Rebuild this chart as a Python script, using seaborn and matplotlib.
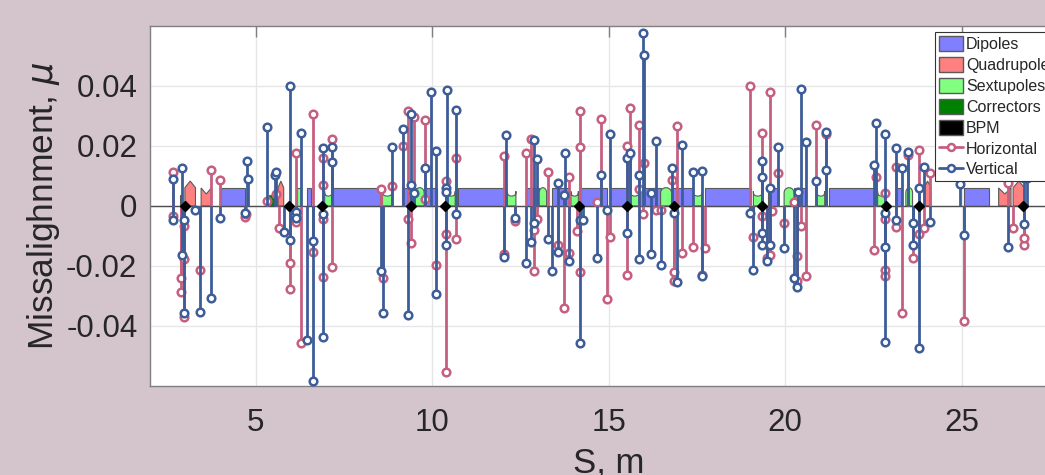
import numpy as np
import pandas as pd
import seaborn as sns
import matplotlib.pyplot as plt
from matplotlib.patches import Patch
from matplotlib.lines import Line2D

# Lattice elements, positions in m
dip_start = [4.00, 6.45, 7.18, 9.15, 9.76, 10.74, 12.66, 13.40, 14.22, 15.03, 15.86, 16.80, 17.73, 19.50, 20.25, 21.23, 23.14, 25.08]
dip_end = [4.68, 6.57, 8.53, 9.53, 10.14, 12.08, 13.02, 13.87, 14.94, 15.53, 16.47, 17.39, 19.02, 19.80, 20.57, 22.53, 23.31, 25.79]

quad_start = [2.99, 3.45, 5.63, 23.94, 26.05, 26.46]
quad_end = [3.29, 3.74, 5.79, 24.13, 26.40, 26.78]
quad_kind = ["F", "D", "F", "F", "D", "F"]

sext_start = [6.17, 6.95, 8.59, 9.52, 10.43, 12.13, 13.03, 13.93, 15.62, 16.47, 17.40, 19.10, 19.97, 20.90, 22.62, 23.42]
sext_end = [6.27, 7.16, 8.86, 9.77, 10.65, 12.37, 13.24, 14.14, 15.86, 16.78, 17.65, 19.35, 20.25, 21.12, 22.84, 23.61]
sext_kind = ["flat", "notch", "notch", "bump", "notch", "notch", "bump", "notch",
             "notch", "bump", "notch", "notch", "bump", "notch", "notch", "bump"]

corr_start = [2.86, 5.37]
corr_end = [2.90, 5.53]

bpm_s = [2.98, 5.95, 6.88, 9.40, 10.37, 14.15, 15.53, 16.85, 19.35, 22.86, 23.80, 26.75]

# Horizontal misalignments
h_s = [2.64, 2.64, 2.87, 2.87, 2.96, 2.96, 2.96, 3.43, 3.73, 3.98, 4.69, 4.73, 5.32, 5.56, 5.65,
       5.96, 5.96, 6.13, 6.13, 6.28, 6.61, 6.61, 6.89, 6.89, 6.89, 6.89, 7.17, 7.17,
       8.55, 8.60, 8.86, 9.16, 9.32, 9.32, 9.41, 9.49, 9.78, 9.78, 10.10, 10.39, 10.39, 10.39,
       10.67, 10.67, 12.04, 12.04, 12.35, 12.66, 12.80, 12.89, 12.89, 12.98, 13.29, 13.55, 13.73,
       13.88, 13.88, 14.09, 14.18, 14.18, 14.18,
       14.68, 14.79, 14.94, 15.03, 15.53, 15.53, 15.60, 15.86, 15.86, 16.01, 15.97, 16.35, 16.47,
       16.78, 16.85, 16.85, 16.94, 17.09, 17.39, 17.64, 17.73, 19.01, 19.09, 19.35, 19.35, 19.49,
       19.56, 19.56, 19.63, 19.80, 19.97, 20.25, 20.33, 20.33, 20.44, 20.58, 20.88,
       21.16, 22.51, 22.58, 22.84, 22.84, 22.84, 22.84, 23.14, 23.14, 23.30, 23.47, 23.61, 23.78,
       23.78, 23.94, 24.10, 25.08, 26.31, 26.46, 26.78, 26.78]
h_val = [0.0113, -0.0033, -0.0241, -0.0286, -0.0369, -0.0067, -0.0176, -0.0213, 0.0119, 0.0087, -0.0036, -0.0028, 0.0016, 0.0039, -0.0072,
         -0.0190, -0.0277, 0.0176, -0.0053, -0.0456, 0.0306, -0.0152, 0.0161, 0.0071, -0.0237, -0.0044, 0.0222, -0.0202,
         0.0056, -0.0241, 0.0067, 0.0200, 0.0317, -0.0042, -0.0122, 0.0298, 0.0287, 0.0022, -0.0197, -0.0552, 0.0083, -0.0094,
         0.0161, -0.0109, 0.0167, -0.0159, -0.0050, 0.0176, 0.0222, -0.0217, -0.0080, -0.0044, 0.0114, -0.0131, -0.0339,
         0.0097, -0.0156, -0.0083, 0.0316, 0.0198, -0.0219,
         0.0014, 0.0289, -0.0311, -0.0103, -0.0231, 0.0200, 0.0326, 0.0269, 0.0056, 0.0144, -0.0028, -0.0013, -0.0013,
         0.0086, -0.0220, -0.0250, 0.0267, -0.0156, -0.0138, -0.0231, -0.0141, 0.0400, -0.0104, 0.0244, -0.0033, -0.0172,
         0.0380, -0.0164, -0.0018, 0.0111, -0.0056, 0.0014, -0.0167, -0.0250, -0.0067, -0.0233, 0.0270,
         0.0241, -0.0147, 0.0098, 0.0044, -0.0044, -0.0214, -0.0233, 0.0130, -0.0069, -0.0358, 0.0169, -0.0174, 0.0187,
         -0.0094, -0.0072, 0.0111, -0.0383, 0.0078, -0.0072, -0.0130, -0.0106]

# Vertical misalignments
v_s = [2.64, 2.64, 2.92, 2.92, 2.96, 2.96, 3.29, 3.43, 3.73, 3.98, 4.69, 4.75, 4.78, 5.32, 5.53, 5.58,
       5.79, 5.96, 5.96, 6.13, 6.13, 6.28, 6.44, 6.61, 6.61, 6.89, 6.89, 6.89, 7.17, 7.17,
       8.55, 8.61, 8.86, 9.16, 9.32, 9.41, 9.41, 9.49, 9.78, 9.96, 10.10, 10.10, 10.39, 10.39, 10.39,
       10.42, 10.67, 10.67, 12.04, 12.10, 12.35, 12.66, 12.80, 12.89, 12.89, 12.98, 13.29, 13.39,
       13.55, 13.55, 13.73, 13.77, 13.88, 14.18, 14.18, 14.26, 14.66,
       14.79, 14.94, 15.03, 15.53, 15.53, 15.60, 15.86, 15.86, 15.96, 16.01, 16.21, 16.21, 16.35,
       16.47, 16.78, 16.85, 16.94, 17.09, 17.39, 17.64, 17.64, 19.01, 19.09, 19.35, 19.35, 19.35,
       19.35, 19.49, 19.56, 19.56, 19.80, 19.97, 20.25, 20.33, 20.35, 20.44, 20.58, 20.88,
       21.16, 21.16, 22.51, 22.58, 22.84, 22.84, 22.84, 22.84, 23.14, 23.14, 23.30, 23.47, 23.61,
       23.61, 23.78, 23.78, 23.94, 24.10, 24.95, 25.08, 26.31, 26.78, 26.78, 26.84]
v_val = [0.0089, -0.0048, 0.0126, -0.0163, -0.0356, -0.0047, -0.0013, -0.0353, -0.0308, -0.0041, -0.0022, 0.0150, 0.0089, 0.0263, 0.0103, 0.0114,
         -0.0087, 0.0399, -0.0113, -0.0020, -0.0039, 0.0244, -0.0448, -0.0584, -0.0117, 0.0194, -0.0436, -0.0028, 0.0196, 0.0148,
         -0.0217, -0.0356, 0.0198, 0.0256, -0.0363, 0.0306, 0.0069, 0.0044, 0.0128, 0.0380, 0.0182, -0.0294, 0.0059, -0.0131, 0.0047,
         0.0386, 0.0319, -0.0026, -0.0169, 0.0236, -0.0039, -0.0191, -0.0120, 0.0220, -0.0056, 0.0158, -0.0109, -0.0217,
         0.0078, -0.0152, 0.0036, 0.0178, -0.0183, -0.0456, -0.0047, -0.0047, -0.0172,
         0.0102, -0.0014, 0.0241, 0.0159, -0.0091, 0.0178, -0.0176, 0.0102, 0.0578, 0.0503, 0.0044, -0.0161, 0.0218,
         -0.0197, 0.0127, -0.0022, -0.0253, 0.0202, 0.0113, 0.0116, -0.0233, -0.0022, -0.0214, 0.0150, 0.0098, -0.0091,
         -0.0129, -0.0183, 0.0059, -0.0131, 0.0198, -0.0139, -0.0241, -0.0270, 0.0048, 0.0389, 0.0213, 0.0083,
         0.0248, 0.0120, 0.0136, 0.0277, 0.0241, -0.0022, -0.0137, -0.0453, 0.0192, -0.0048, 0.0128, 0.0180, -0.0058,
         -0.0131, 0.0059, -0.0474, 0.0131, -0.0053, 0.0072, -0.0097, -0.0137, -0.0061, 0.0094, 0.0094]

bg = "#d4c4cc"
pink = "#c55f80"
blue = "#3d5d98"
edge = "#5a5a5a"

sns.set_style("whitegrid", {"grid.color": "#e6e6e6", "axes.edgecolor": "#7f7f7f"})
plt.rcParams["font.family"] = ["Liberation Sans", "DejaVu Sans"]
plt.rcParams["mathtext.fontset"] = "dejavusans"

fig = plt.figure(figsize=(10.45, 4.75), dpi=100, facecolor=bg)
ax = fig.add_axes([0.1435, 0.1874, 0.878, 0.7579])

# dipoles
for a, b in zip(dip_start, dip_end):
    ax.fill([a, a, b, b], [0, 0.006, 0.006, 0], facecolor="#8080ff", edgecolor=edge, lw=0.8, zorder=2)

# quadrupoles
for a, b, k in zip(quad_start, quad_end, quad_kind):
    m = (a + b) / 2
    if k == "F":
        ys = [0, 0.0061, 0.0083, 0.0061, 0]
    else:
        ys = [0, 0.0060, 0.0040, 0.0060, 0]
    ax.fill([a, a, m, b, b], ys, facecolor="#ff8080", edgecolor=edge, lw=0.8, zorder=2)

# sextupoles
t = np.linspace(0, np.pi, 24)
for a, b, k in zip(sext_start, sext_end, sext_kind):
    m, r = (a + b) / 2, (b - a) / 2
    xs = [a] + list(m - r * np.cos(t)) + [b]
    if k == "bump":
        top = 0.0044 + 0.0017 * np.sin(t)
    elif k == "notch":
        top = 0.0049 - 0.0016 * np.sin(t) ** 0.6
    else:
        top = 0.0060 + 0 * t
    ys = [0] + list(top) + [0]
    ax.fill(xs, ys, facecolor="#80ff80", edgecolor=edge, lw=0.8, zorder=2)

# correctors
for a, b in zip(corr_start, corr_end):
    ax.fill([a, a, b, b], [0, 0.0035, 0.0035, 0], facecolor="#008000", edgecolor=edge, lw=0.8, zorder=2)

ax.axhline(0, color="#4d4d4d", lw=1.0, zorder=2.5)

# stems
ax.vlines(h_s, 0, h_val, color=pink, lw=2.0, zorder=3)
sns.scatterplot(x=h_s, y=h_val, ax=ax, marker="o", s=30, color="white",
                edgecolor=pink, linewidth=1.8, zorder=3.5, legend=False)
ax.vlines(v_s, 0, v_val, color=blue, lw=2.0, zorder=4)
sns.scatterplot(x=v_s, y=v_val, ax=ax, marker="o", s=30, color="white",
                edgecolor=blue, linewidth=1.8, zorder=4.5, legend=False)

# BPMs
ax.plot(bpm_s, np.zeros(len(bpm_s)), ls="none", marker="D", ms=5, color="black", zorder=5)

ax.set_xlim(2, 28)
ax.set_ylim(-0.06, 0.06)
ax.set_xticks([5, 10, 15, 20, 25])
ax.set_yticks([-0.04, -0.02, 0, 0.02, 0.04])
ax.set_yticklabels(["-0.04", "-0.02", "0", "0.02", "0.04"])
ax.tick_params(axis="both", direction="in", length=8, width=1, color="#7f7f7f",
               labelsize=22.5, labelcolor="#262626", top=True, right=True)
ax.tick_params(axis="x", pad=16)
ax.tick_params(axis="y", pad=9)
for sp in ax.spines.values():
    sp.set_linewidth(1.0)
ax.grid(True, lw=1.0)

ax.set_xlabel("S, m", fontsize=25, color="#262626", labelpad=6)
ax.set_ylabel(r"Missalighnment, $\mu$", fontsize=25.5, color="#262626", labelpad=3)

handles = [
    Patch(facecolor="#8080ff", edgecolor=edge, label="Dipoles"),
    Patch(facecolor="#ff8080", edgecolor=edge, label="Quadrupoles"),
    Patch(facecolor="#80ff80", edgecolor=edge, label="Sextupoles"),
    Patch(facecolor="#008000", edgecolor=edge, label="Correctors"),
    Patch(facecolor="black", edgecolor=edge, label="BPM"),
    Line2D([], [], color=pink, lw=2.0, marker="o", ms=5, mfc="white", mec=pink, mew=1.8, label="Horizontal"),
    Line2D([], [], color=blue, lw=2.0, marker="o", ms=5, mfc="white", mec=blue, mew=1.8, label="Vertical"),
]
leg = ax.legend(handles=handles, loc="upper left", bbox_to_anchor=(935 / 1045, 1 - 32 / 475),
                bbox_transform=fig.transFigure, fontsize=11.5, frameon=True, fancybox=False,
                framealpha=1, edgecolor="#333333", borderpad=0.25, labelspacing=0.3,
                handlelength=1.5, handleheight=1.1, handletextpad=0.2, borderaxespad=0)
leg.get_frame().set_linewidth(0.8)
leg.set_zorder(10)

fig.savefig("out.png", dpi=100, facecolor=bg)
